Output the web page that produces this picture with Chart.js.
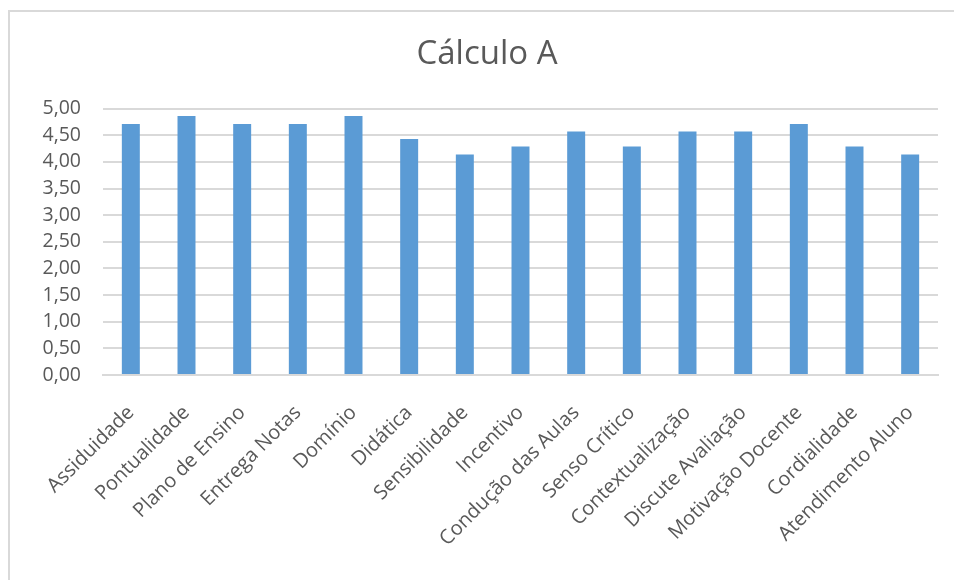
<!DOCTYPE html>
<html>
<head>
<meta charset="utf-8">
<script src="https://cdn.jsdelivr.net/npm/chart.js@4/dist/chart.umd.min.js"></script>
<style>
  html, body { margin: 0; padding: 0; background: #fff; }
  #wrap { position: relative; width: 954px; height: 580px; overflow: hidden; }
  #frame { position: absolute; left: 8px; top: 10px; width: 960px; height: 600px; border: 2px solid #d9d9d9; box-sizing: border-box; }
  canvas { position: absolute; left: 0; top: 0; }
</style>
</head>
<body>
<div id="wrap">
  <div id="frame"></div>
  <canvas id="c" width="954" height="580"></canvas>
</div>
<script>
const chartTitle = "Cálculo A";
const categories = ["Assiduidade", "Pontualidade", "Plano de Ensino", "Entrega Notas", "Domínio", "Didática", "Sensibilidade", "Incentivo", "Condução das Aulas", "Senso Crítico", "Contextualização", "Discute Avaliação", "Motivação Docente", "Cordialidade", "Atendimento Aluno"];
const values = [4.71, 4.86, 4.71, 4.71, 4.86, 4.43, 4.14, 4.29, 4.57, 4.29, 4.57, 4.57, 4.71, 4.29, 4.14];
const yMin = 0, yMax = 5, yStep = 0.5;

const textColor = "#595959";
new Chart(document.getElementById("c"), {
  type: "bar",
  data: {
    labels: categories,
    datasets: [{
      data: values,
      backgroundColor: "#5b9bd5",
      categoryPercentage: 1,
      barPercentage: 0.323
    }]
  },
  options: {
    responsive: false,
    animation: false,
    layout: { padding: { left: 36, right: 16, top: 30, bottom: 0 } },
    plugins: {
      legend: { display: false },
      tooltip: { enabled: false },
      title: {
        display: true,
        text: chartTitle,
        color: textColor,
        font: { family: "Open Sans", size: 33, weight: "normal" },
        padding: { top: 5, bottom: 34 }
      }
    },
    scales: {
      x: {
        grid: { display: false },
        border: { color: "#d9d9d9", width: 2 },
        ticks: {
          color: textColor,
          font: { family: "Open Sans", size: 20 },
          maxRotation: 45, minRotation: 45,
          autoSkip: false,
          padding: 18
        },
        afterFit: (s) => { s.height = 205; }
      },
      y: {
        min: yMin, max: yMax,
        grid: { color: "#d9d9d9", lineWidth: 2, drawTicks: false },
        border: { display: false },
        ticks: {
          stepSize: yStep,
          autoSkip: false,
          color: textColor,
          font: { family: "Open Sans", size: 19.5 },
          padding: 22,
          callback: (v) => Number(v).toFixed(2).replace(".", ",")
        },
        afterFit: (s) => { s.width = 67; }
      }
    }
  }
});
</script>
</body>
</html>
